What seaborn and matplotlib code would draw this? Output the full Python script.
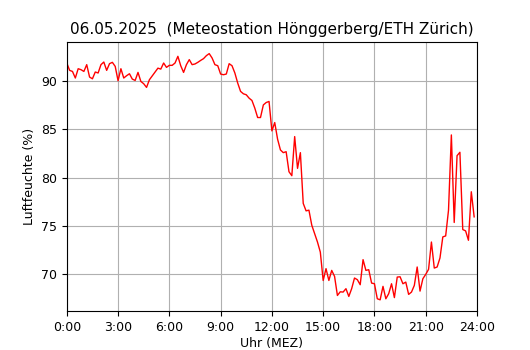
import numpy as np
import pandas as pd
import seaborn as sns
import matplotlib
matplotlib.use("Agg")
import matplotlib.pyplot as plt

# Luftfeuchte (%) alle 10 Minuten, 06.05.2025
feuchte = [
    91.83, 91.07, 90.96, 90.28, 91.24, 91.14, 90.96, 91.66, 90.38, 90.20,
    90.90, 90.80, 91.66, 91.93, 91.07, 91.76, 91.90, 91.48, 90.00, 91.24,
    90.28, 90.52, 90.72, 90.17, 90.03, 90.86, 89.93, 89.69, 89.31, 90.10,
    90.50, 90.90, 91.30, 91.20, 91.83, 91.38, 91.59, 91.59, 91.83, 92.52,
    91.55, 90.86, 91.66, 92.18, 91.66, 91.73, 91.90, 92.10, 92.28, 92.59,
    92.80, 92.35, 91.66, 91.55, 90.69, 90.62, 90.69, 91.76, 91.55, 90.80,
    89.76, 88.90, 88.65, 88.55, 88.20, 87.96, 87.17, 86.20, 86.20, 87.50,
    87.75, 87.86, 84.82, 85.68, 83.96, 82.85, 82.57, 82.67, 80.60, 80.19,
    84.23, 80.95, 82.57, 77.33, 76.56, 76.63, 75.08, 74.20, 73.34, 72.30,
    69.37, 70.59, 69.37, 70.41, 69.79, 67.82, 68.20, 68.17, 68.52, 67.72,
    68.52, 69.62, 69.45, 68.93, 71.52, 70.41, 70.48, 69.10, 69.03, 67.48,
    67.37, 68.76, 67.48, 68.00, 69.03, 67.60, 69.72, 69.75, 69.03, 69.20,
    67.93, 68.17, 68.86, 70.76, 68.27, 69.55, 70.00, 70.52, 73.34, 70.65,
    70.76, 71.69, 73.87, 73.97, 76.63, 84.40, 75.36, 82.26, 82.61, 74.63,
    74.49, 73.52, 78.53, 75.94,
]
zeit = pd.date_range("2025-05-06 00:00", periods=len(feuchte), freq="10min")
stunden = zeit.hour + zeit.minute / 60.0

tick_pos = [0, 3, 6, 9, 12, 15, 18, 21, 24]
tick_labels = ["0:00", "3:00", "6:00", "9:00", "12:00", "15:00", "18:00", "21:00", "24:00"]

df = pd.DataFrame({"Stunde": stunden, "Luftfeuchte": feuchte})

fig = plt.figure(figsize=(5.3, 3.5), dpi=100)
ax = fig.add_axes([0.126, 0.111, 0.774, 0.769])
sns.lineplot(data=df, x="Stunde", y="Luftfeuchte", color="red", linewidth=1, ax=ax)
ax.set_xlim(0, 24)
ax.set_ylim(66.2, 94.0)
ax.set_xticks(tick_pos)
ax.set_xticklabels(tick_labels)
ax.set_yticks([70, 75, 80, 85, 90])
ax.tick_params(labelsize=9)
ax.grid(True, color="#b0b0b0")
ax.set_xlabel("Uhr (MEZ)", fontsize=9, labelpad=2)
ax.set_ylabel("Luftfeuchte (%)", fontsize=9)
ax.set_title("06.05.2025  (Meteostation Hönggerberg/ETH Zürich)", fontsize=11)
fig.savefig("out.png", dpi=100)
